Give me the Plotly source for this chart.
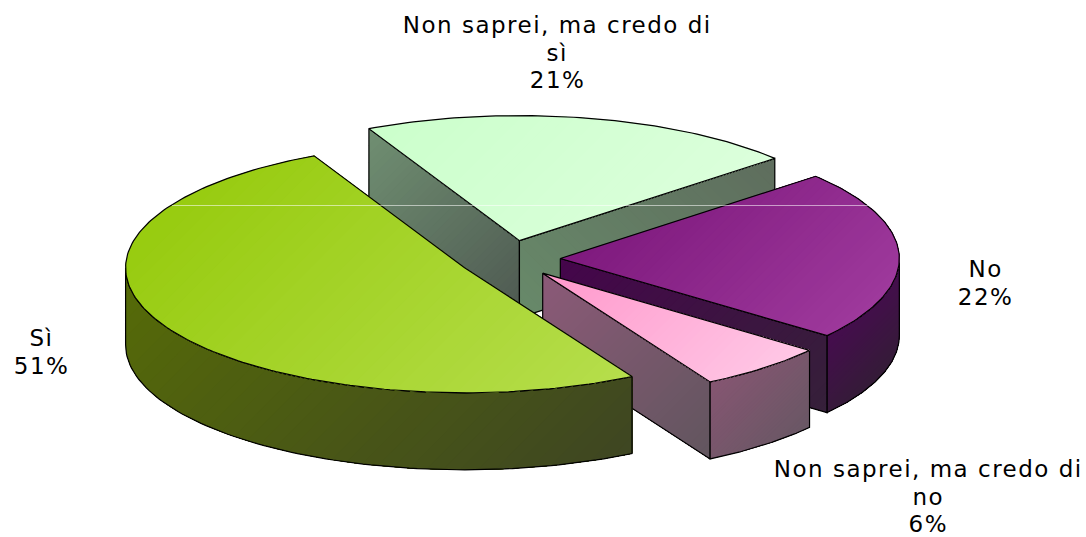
import numpy as np
import plotly.graph_objects as go

categories = ["Sì", "Non saprei, ma credo di sì", "No", "Non saprei, ma credo di no"]
values = [50.9, 20.9, 22.0, 6.2]
label_lines = [["Sì"], ["Non saprei, ma credo di", "sì"], ["No"], ["Non saprei, ma credo di", "no"]]

# Layout of the projected pie (pixels of the plot area)
CX, CY, A, B, DEPTH, EXPLODE, START = 509.5, 259.0, 339.0, 125.0, 77.0, 0.15, 150.4
label_pos = [(41, 338), (557, 25), (985, 269), (928, 469)]
LINE_H = 27.5
FONT = dict(family="DejaVu Sans", size=23, color="#000000")

STYLE = {
    0: dict(top=("#98cc10", "#b6de4c"), wall=("#566b08", "#3f4722"), end=None, start=None),
    1: dict(top=("#ccffcc", "#dcffdc"), wall=None, start=("#708f72", "#4f5a52"), end=("#688a6a", "#5f6e5e"), end_dir=(1, -1)),
    2: dict(top=("#7f1a7e", "#9e399c"), wall=("#470c50", "#351c38"), end=("#45064b", "#36203a"), start=None),
    3: dict(top=("#ff99cc", "#ffc8e6"), wall=("#865672", "#6a5865"), end=("#8c5a78", "#62565f"), start=None),
}


def hex2rgb(h):
    return np.array([int(h[i:i + 2], 16) for i in (1, 3, 5)], float)


def clip(poly, d, t):
    """Keep the part of the polygon with d.p >= t."""
    out = []
    n = len(poly)
    for i in range(n):
        p, q = poly[i], poly[(i + 1) % n]
        sp, sq = p @ d - t, q @ d - t
        if sp >= 0:
            out.append(p)
        if sp * sq < 0:
            out.append(p + (q - p) * sp / (sp - sq))
    return np.array(out) if len(out) > 2 else None


fig = go.Figure()


def add_poly(poly, c0, c1, direction=(1, 1), bands=40):
    d = np.array(direction, float)
    d /= np.linalg.norm(d)
    proj = poly @ d
    lo, hi = proj.min(), proj.max()
    a, b = hex2rgb(c0), hex2rgb(c1)
    for k in range(bands):
        f = k / (bands - 1)
        part = clip(poly, d, lo + (hi - lo) * k / bands) if k else poly
        if part is None:
            continue
        col = a + (b - a) * f
        fig.add_trace(go.Scatter(x=part[:, 0], y=part[:, 1], mode="lines", fill="toself",
                                 fillcolor="rgb(%d,%d,%d)" % tuple(col), line=dict(width=0),
                                 hoverinfo="skip", showlegend=False))
    closed = np.vstack([poly, poly[:1]])
    fig.add_trace(go.Scatter(x=closed[:, 0], y=closed[:, 1], mode="lines",
                             line=dict(color="#000000", width=1.2), hoverinfo="skip", showlegend=False))


sweep = np.array(values, float) / sum(values) * 360
starts = START + np.concatenate([[0], np.cumsum(sweep)[:-1]])

for i in [1, 2, 3, 0]:
    t0, t1 = starts[i], starts[i] + sweep[i]
    mid = np.radians((t0 + t1) / 2)
    c = np.array([CX + A * EXPLODE * np.sin(mid), CY - B * EXPLODE * np.cos(mid)])

    def pt(theta):
        r = np.radians(theta)
        return np.column_stack([c[0] + A * np.sin(r), c[1] - B * np.cos(r)])

    st = STYLE[i]
    down = np.array([0, DEPTH])
    # cut faces
    for theta, normal, key in ((t0, t0 - 90, "start"), (t1, t1 + 90, "end")):
        if np.cos(np.radians(normal)) < 0 and st.get(key):
            e = pt(theta)[0]
            face = np.array([c, e, e + down, c + down])
            add_poly(face, *st[key], direction=st.get(key + "_dir", (1, 1)))
    # outer wall: front half of the rim only
    wall_angles = []
    for k in (0, 360):
        a0, a1 = max(t0, 90 + k), min(t1, 270 + k)
        if a1 > a0:
            wall_angles.append((a0, a1))
    for a0, a1 in wall_angles:
        arc = pt(np.linspace(a0, a1, 90))
        add_poly(np.vstack([arc, arc[::-1] + down]), *st["wall"])
    # top
    arc = pt(np.linspace(t0, t1, max(int(sweep[i]), 8)))
    add_poly(np.vstack([c[None, :], arc]), *st["top"])

# faint highlight line of the original rendering
fig.add_trace(go.Scatter(x=[172, 870], y=[205.5, 205.5], mode="lines",
                         line=dict(color="rgba(255,255,255,0.55)", width=1),
                         hoverinfo="skip", showlegend=False))

for lines, v, (x, y) in zip(label_lines, values, label_pos):
    for j, text in enumerate(lines + ["%d%%" % round(v)]):
        fig.add_annotation(x=x, y=y + j * LINE_H, text=text, showarrow=False, font=FONT,
                           xanchor="center", yanchor="middle", xref="x", yref="y")

fig.update_layout(width=1086, height=537, margin=dict(l=0, r=0, t=0, b=0),
                  paper_bgcolor="white", plot_bgcolor="white", showlegend=False,
                  xaxis=dict(range=[0, 1086], visible=False),
                  yaxis=dict(range=[537, 0], visible=False))
POST = """
document.body.style.margin = '0';
document.querySelectorAll('.annotation-text').forEach(function (el) { el.style.letterSpacing = '1.5px'; });
"""
fig.write_html("out.html", post_script=POST, config={"displayModeBar": False})
